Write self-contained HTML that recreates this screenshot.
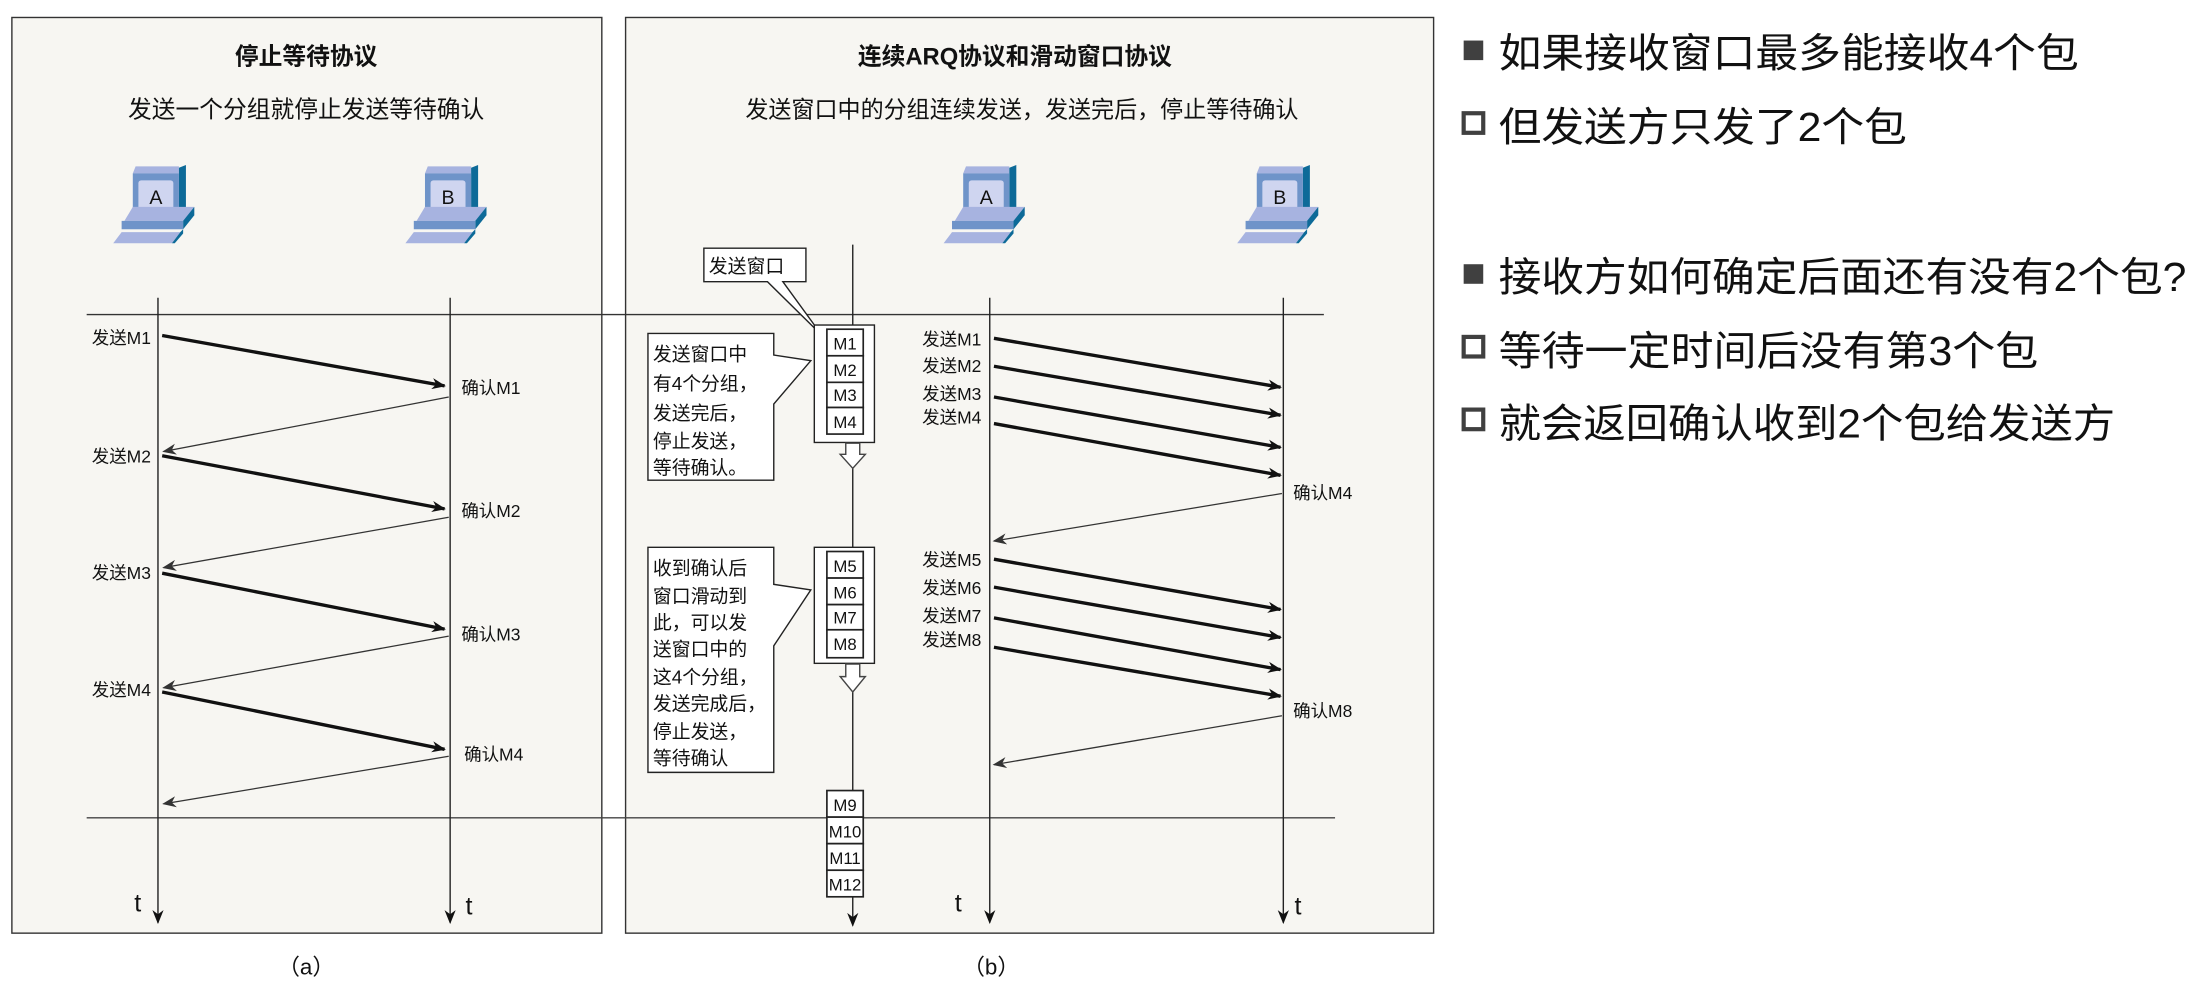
<!DOCTYPE html>
<html><head><meta charset="utf-8"><style>
html,body{margin:0;padding:0;background:#fff;}
svg{display:block}
text{font-family:"Liberation Sans","Noto Sans CJK SC",sans-serif;fill:#111}
</style></head><body>
<svg width="2192" height="992" viewBox="0 0 1568 709.6" xmlns="http://www.w3.org/2000/svg">
<defs>
<marker id="ah" markerWidth="10" markerHeight="8" refX="9" refY="4" orient="auto" markerUnits="userSpaceOnUse"><path d="M0,0 L10,4 L0,8 L3,4 Z" fill="#111"/></marker>
<marker id="ahs" markerWidth="10" markerHeight="8" refX="9" refY="4" orient="auto" markerUnits="userSpaceOnUse"><path d="M0,0 L10,4 L0,8 L3,4 Z" fill="#333"/></marker>
<g id="pc">
<polygon points="16,0 47,0 47,5 14,5" fill="#a7b3e0"/>
<polygon points="47,5 47,1 52,-1 52,31 47,35" fill="#0d6a98"/>
<rect x="14" y="5" width="33" height="30" fill="#6f94c9"/>
<rect x="18" y="10" width="25" height="21" rx="2" fill="#cfd5f0"/>
<polygon points="14,29 58,29 51,39 8,39" fill="#a7b3e0"/>
<polygon points="58,29 58,35 50,45 50,39" fill="#0d6a98"/>
<rect x="6" y="39" width="44" height="6" fill="#6f94c9"/>
<polygon points="6,47 48,47 42,55 0,55" fill="#a7b3e0"/>
<polygon points="48,47 50,45 50,48 44,55 42,55" fill="#0d6a98"/>
</g>
</defs>
<rect x="0" y="0" width="1568" height="710" fill="#fff"/>
<!-- Panel a -->
<rect x="8.5" y="12.5" width="422" height="655" fill="#f7f6f2" stroke="#333" stroke-width="1"/>
<text x="219" y="46" font-size="17" font-weight="bold" text-anchor="middle">停止等待协议</text>
<text x="219" y="84" font-size="17" text-anchor="middle" fill="#222">发送一个分组就停止发送等待确认</text>
<use href="#pc" x="81" y="119"/><text x="111.5" y="146" font-size="14" text-anchor="middle">A</text>
<use href="#pc" x="290" y="119"/><text x="320.5" y="146" font-size="14" text-anchor="middle">B</text>
<!-- Panel b -->
<rect x="447.5" y="12.5" width="578" height="655" fill="#f7f6f2" stroke="#333" stroke-width="1"/>
<text x="726" y="46" font-size="17" font-weight="bold" text-anchor="middle">连续ARQ协议和滑动窗口协议</text>
<text x="731" y="84" font-size="16.5" text-anchor="middle" fill="#222">发送窗口中的分组连续发送，发送完后，停止等待确认</text>
<use href="#pc" x="675" y="119"/><text x="705.5" y="146" font-size="14" text-anchor="middle">A</text>
<use href="#pc" x="885" y="119"/><text x="915.5" y="146" font-size="14" text-anchor="middle">B</text>
<!-- horizontal lines -->
<line x1="62" y1="225" x2="947" y2="225" stroke="#333" stroke-width="1"/>
<line x1="62" y1="585" x2="955" y2="585" stroke="#444" stroke-width="1"/>
<!-- timelines -->
<g stroke="#222" stroke-width="1">
<line x1="113" y1="213" x2="113" y2="660" marker-end="url(#ah)"/>
<line x1="322" y1="213" x2="322" y2="660" marker-end="url(#ah)"/>
<line x1="708" y1="213" x2="708" y2="660" marker-end="url(#ah)"/>
<line x1="918" y1="213" x2="918" y2="660" marker-end="url(#ah)"/>
<line x1="610" y1="175" x2="610" y2="662" marker-end="url(#ah)"/>
</g>
<text x="96" y="652" font-size="18">t</text>
<text x="333" y="654" font-size="18">t</text>
<text x="683" y="652" font-size="18">t</text>
<text x="926" y="654" font-size="18">t</text>
<!-- panel a messages -->
<g font-size="12.5">
<text x="108" y="246" text-anchor="end">发送M1</text>
<text x="330" y="282">确认M1</text>
<text x="108" y="331" text-anchor="end">发送M2</text>
<text x="330" y="370">确认M2</text>
<text x="108" y="414" text-anchor="end">发送M3</text>
<text x="330" y="458">确认M3</text>
<text x="108" y="498" text-anchor="end">发送M4</text>
<text x="332" y="544">确认M4</text>
</g>
<g stroke="#111" stroke-width="2.4">
<line x1="116" y1="240" x2="318" y2="276" marker-end="url(#ah)"/>
<line x1="116" y1="326" x2="318" y2="364" marker-end="url(#ah)"/>
<line x1="116" y1="410" x2="318" y2="450" marker-end="url(#ah)"/>
<line x1="116" y1="495" x2="318" y2="536" marker-end="url(#ah)"/>
</g>
<g stroke="#333" stroke-width="0.9">
<line x1="321" y1="284" x2="117" y2="323" marker-end="url(#ahs)"/>
<line x1="321" y1="370" x2="117" y2="406" marker-end="url(#ahs)"/>
<line x1="321" y1="455" x2="117" y2="492" marker-end="url(#ahs)"/>
<line x1="321" y1="541" x2="117" y2="575" marker-end="url(#ahs)"/>
</g>
<!-- panel b messages -->
<g font-size="12.5">
<text x="702" y="247" text-anchor="end">发送M1</text>
<text x="702" y="266" text-anchor="end">发送M2</text>
<text x="702" y="286" text-anchor="end">发送M3</text>
<text x="702" y="303" text-anchor="end">发送M4</text>
<text x="925" y="357">确认M4</text>
<text x="702" y="405" text-anchor="end">发送M5</text>
<text x="702" y="425" text-anchor="end">发送M6</text>
<text x="702" y="445" text-anchor="end">发送M7</text>
<text x="702" y="462" text-anchor="end">发送M8</text>
<text x="925" y="513">确认M8</text>
</g>
<g stroke="#111" stroke-width="2.4">
<line x1="711" y1="242" x2="916" y2="277" marker-end="url(#ah)"/>
<line x1="711" y1="262" x2="916" y2="297" marker-end="url(#ah)"/>
<line x1="711" y1="284" x2="916" y2="320" marker-end="url(#ah)"/>
<line x1="711" y1="303" x2="916" y2="340" marker-end="url(#ah)"/>
<line x1="711" y1="400" x2="916" y2="436" marker-end="url(#ah)"/>
<line x1="711" y1="420" x2="916" y2="456" marker-end="url(#ah)"/>
<line x1="711" y1="442" x2="916" y2="479" marker-end="url(#ah)"/>
<line x1="711" y1="463" x2="916" y2="498" marker-end="url(#ah)"/>
</g>
<g stroke="#333" stroke-width="0.9">
<line x1="917" y1="353" x2="711" y2="387" marker-end="url(#ahs)"/>
<line x1="917" y1="512" x2="711" y2="547" marker-end="url(#ahs)"/>
</g>
<!-- 发送窗口 label -->
<polygon points="503.5,177.5 576.5,177.5 576.5,201.5 560,201.5 588,240 549,201.5 503.5,201.5" fill="#fff" stroke="#222" stroke-width="1"/>
<text x="507" y="195" font-size="13.5">发送窗口</text>
<!-- window 1 -->
<rect x="582.5" y="232.5" width="43" height="84" fill="#fff" stroke="#222"/>
<g fill="#fff" stroke="#222" stroke-width="1.2">
<rect x="591.5" y="235.5" width="26" height="19"/><rect x="591.5" y="254.5" width="26" height="19"/>
<rect x="591.5" y="273.5" width="26" height="18"/><rect x="591.5" y="291.5" width="26" height="19"/>
</g>
<g font-size="12" text-anchor="middle"><text x="604.5" y="250">M1</text><text x="604.5" y="269">M2</text><text x="604.5" y="287">M3</text><text x="604.5" y="306">M4</text></g>
<polygon points="605,317 615,317 615,325 619,325 610,335 601,325 605,325" fill="#fff" stroke="#444"/>
<!-- callout 1 -->
<polygon points="463.5,238.5 553.5,238.5 553.5,254 580,258 553.5,289 553.5,343.5 463.5,343.5" fill="#fff" stroke="#222"/>
<g font-size="13.5"><text x="467" y="258">发送窗口中</text><text x="467" y="279">有4个分组，</text><text x="467" y="300">发送完后，</text><text x="467" y="320">停止发送，</text><text x="467" y="339">等待确认。</text></g>
<!-- window 2 -->
<rect x="582.5" y="391.5" width="43" height="83" fill="#fff" stroke="#222"/>
<g fill="#fff" stroke="#222" stroke-width="1.2">
<rect x="591.5" y="394.5" width="26" height="19"/><rect x="591.5" y="413.5" width="26" height="19"/>
<rect x="591.5" y="432.5" width="26" height="18"/><rect x="591.5" y="450.5" width="26" height="20"/>
</g>
<g font-size="12" text-anchor="middle"><text x="604.5" y="409">M5</text><text x="604.5" y="428">M6</text><text x="604.5" y="446">M7</text><text x="604.5" y="465">M8</text></g>
<polygon points="605,475 615,475 615,484 619,484 610,495 601,484 605,484" fill="#fff" stroke="#444"/>
<!-- callout 2 -->
<polygon points="463.5,391.5 553.5,391.5 553.5,418 580,422 553.5,462 553.5,552.5 463.5,552.5" fill="#fff" stroke="#222"/>
<g font-size="13.5"><text x="467" y="411">收到确认后</text><text x="467" y="431">窗口滑动到</text><text x="467" y="450">此，可以发</text><text x="467" y="469">送窗口中的</text><text x="467" y="489">这4个分组，</text><text x="467" y="508">发送完成后，</text><text x="467" y="528">停止发送，</text><text x="467" y="547">等待确认</text></g>
<!-- M9-M12 -->
<g fill="#fff" stroke="#222" stroke-width="1.2">
<rect x="591.5" y="565.5" width="26" height="19"/><rect x="591.5" y="584.5" width="26" height="19"/>
<rect x="591.5" y="603.5" width="26" height="19"/><rect x="591.5" y="622.5" width="26" height="19"/>
</g>
<g font-size="12" text-anchor="middle"><text x="604.5" y="580">M9</text><text x="604.5" y="599">M10</text><text x="604.5" y="618">M11</text><text x="604.5" y="637">M12</text></g>
<!-- captions -->
<text x="219" y="697" font-size="16" text-anchor="middle">（a）</text>
<text x="709" y="697" font-size="16" text-anchor="middle">（b）</text>
<!-- right text -->
<g fill="#404040">
<rect x="1047" y="29" width="14" height="14"/>
<rect x="1047" y="81" width="14" height="14" fill="none" stroke="#404040" stroke-width="3"/>
<rect x="1047" y="189" width="14" height="14"/>
<rect x="1047" y="241" width="14" height="14" fill="none" stroke="#404040" stroke-width="3"/>
<rect x="1047" y="293" width="14" height="14" fill="none" stroke="#404040" stroke-width="3"/>
</g>
<g font-size="29" style="fill:#404040">
<text x="1072" y="48" textLength="415" lengthAdjust="spacingAndGlyphs">如果接收窗口最多能接收4个包</text>
<text x="1072" y="101" textLength="292" lengthAdjust="spacingAndGlyphs">但发送方只发了2个包</text>
<text x="1072" y="208" textLength="492" lengthAdjust="spacingAndGlyphs">接收方如何确定后面还有没有2个包?</text>
<text x="1072" y="261" textLength="386" lengthAdjust="spacingAndGlyphs">等待一定时间后没有第3个包</text>
<text x="1072" y="313" textLength="441" lengthAdjust="spacingAndGlyphs">就会返回确认收到2个包给发送方</text>
</g>
</svg>
</body></html>
